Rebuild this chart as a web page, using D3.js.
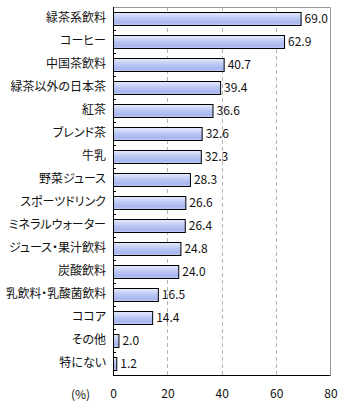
<!DOCTYPE html>
<html><head><meta charset="utf-8">
<script src="https://cdn.jsdelivr.net/npm/d3@7"></script>
<style>body{margin:0;background:#fff}svg{display:block}text{font-family:"Noto Sans CJK JP","Noto Sans",sans-serif;font-feature-settings:"palt";}</style>
</head><body>
<script>
const categories = ["緑茶系飲料","コーヒー","中国茶飲料","緑茶以外の日本茶","紅茶","ブレンド茶","牛乳","野菜ジュース","スポーツドリンク","ミネラルウォーター","ジュース・果汁飲料","炭酸飲料","乳飲料・乳酸菌飲料","ココア","その他","特にない"];
const values = [69.0,62.9,40.7,39.4,36.6,32.6,32.3,28.3,26.6,26.4,24.8,24.0,16.5,14.4,2.0,1.2];
const xTicks = [0,20,40,60,80];
const unitLabel = "(%)";

const W=340,H=405, L=113, R=330.5, T=7, B=375;
const svg=d3.select("body").append("svg").attr("width",W).attr("height",H);
const defs=svg.append("defs");
const g=defs.append("linearGradient").attr("id","bg").attr("x1",0).attr("y1",0).attr("x2",0).attr("y2",1);
[[0,"#e6ebfc"],[0.45,"#bcc8f4"],[0.8,"#a7b6ee"],[1,"#c3cef5"]].forEach(([o,c])=>g.append("stop").attr("offset",o).attr("stop-color",c));

const x=d3.scaleLinear().domain([0,80]).range([L,R]);
const y=d3.scaleBand().domain(categories).range([T,B]).paddingInner(0.43).paddingOuter(0.215);
const band=d3.scaleBand().domain(categories).range([T,B]);

// gridlines
svg.append("g").selectAll("line").data(xTicks.filter(d=>d>0&&d<80)).join("line")
  .attr("x1",d=>Math.round(x(d))+0.5).attr("x2",d=>Math.round(x(d))+0.5).attr("y1",T).attr("y2",B)
  .attr("stroke","#b4b4b4").attr("stroke-dasharray","4,3");
// frame top/right
svg.append("path").attr("d",`M${L},${T+0.5}H${R}V${B}`).attr("fill","none").attr("stroke","#999");

// bars
svg.append("g").selectAll("rect").data(values).join("rect")
  .attr("x",L+0.5).attr("y",(d,i)=>Math.round(y(categories[i]))+0.5)
  .attr("width",d=>Math.max(1,x(d)-L)).attr("height",Math.round(y.bandwidth()))
  .attr("fill","url(#bg)").attr("stroke","#000").attr("stroke-width",1);

// value labels
svg.append("g").selectAll("text").data(values).join("text")
  .attr("x",d=>x(d)+4).attr("y",(d,i)=>y(categories[i])+y.bandwidth()/2)
  .attr("dy","0.35em").attr("font-size",12).attr("fill","#111").text(d=>d.toFixed(1));

// left axis
const ya=d3.axisLeft(band).tickSize(0).tickPadding(7);
const ay=svg.append("g").attr("transform",`translate(${L},0)`).call(ya);
ay.select(".domain").remove();
ay.selectAll("text").attr("font-size",12).attr("fill","#111").style("font-family",'"Noto Sans CJK JP",sans-serif')
  .each(function(){const w=this.getComputedTextLength(); if(w>100){d3.select(this).attr("textLength",100).attr("lengthAdjust","spacingAndGlyphs");}});
// small inward ticks at band boundaries
svg.append("g").selectAll("line").data(categories.slice(1)).join("line")
  .attr("x1",L).attr("x2",L+3).attr("y1",d=>Math.round(band(d))+0.5).attr("y2",d=>Math.round(band(d))+0.5).attr("stroke","#000");
svg.append("line").attr("x1",L+0.5).attr("x2",L+0.5).attr("y1",T).attr("y2",B+0.5).attr("stroke","#000");

// bottom axis
const xa=d3.axisBottom(x).tickValues(xTicks).tickSize(0).tickPadding(14).tickFormat(d3.format("d"));
const ax=svg.append("g").attr("transform",`translate(0,${B})`).call(xa);
ax.select(".domain").remove();
ax.selectAll("text").attr("font-size",12).attr("fill","#111").style("font-family",'"Noto Sans CJK JP",sans-serif');
svg.append("line").attr("x1",L).attr("x2",R).attr("y1",B+0.5).attr("y2",B+0.5).attr("stroke","#000");
svg.append("text").attr("x",80.5).attr("y",B+20).attr("dy","0.35em").attr("text-anchor","middle").attr("font-size",12).attr("fill","#111").text(unitLabel);
</script>
</body></html>
